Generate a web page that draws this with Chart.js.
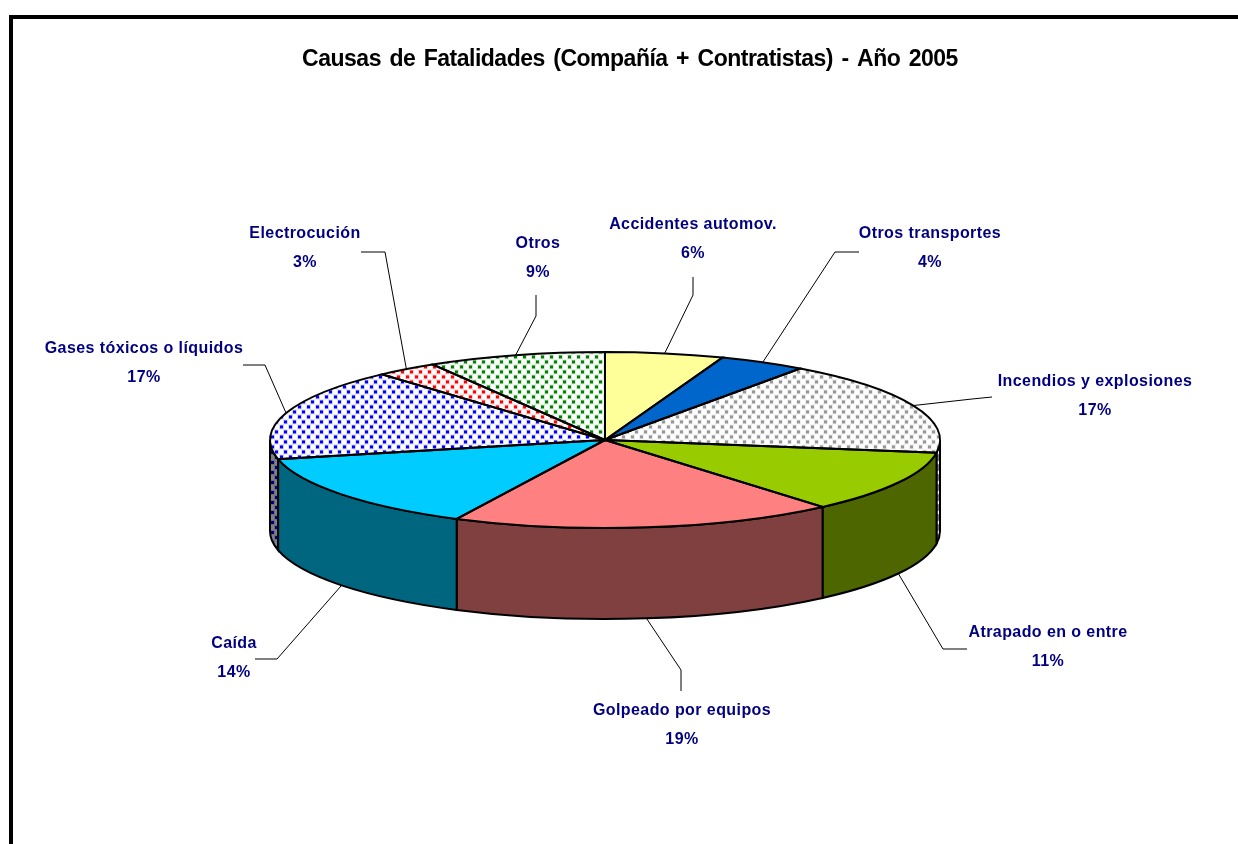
<!DOCTYPE html>
<html>
<head>
<meta charset="utf-8">
<title>Causas de Fatalidades</title>
<script src="https://cdn.jsdelivr.net/npm/chart.js@4/dist/chart.umd.js"></script>
<style>
    html, body { margin: 0; background: #fff; }
    canvas { display: block; }
</style>
</head>
<body>
<canvas id="pieChart" width="1238" height="844"></canvas>
<script>
const categories = ['Accidentes automov.', 'Otros transportes', 'Incendios y explosiones', 'Atrapado en o entre',
    'Golpeado por equipos', 'Caída', 'Gases tóxicos o líquidos', 'Electrocución', 'Otros'];
const shares = [5.7, 4.2, 17.4, 11.45, 18.55, 14.2, 16.9, 3.0, 8.6];

const chartTitle = 'Causas de Fatalidades (Compañía + Contratistas) - Año 2005';

// flattening of the pie and height of the side wall
const tilt = 88 / 335;
const depth = 91;

// label text centre, leader elbow and leader end, same order as categories
const labelSpots = [
    { x: 693, y: 225, elbow: [693, 295], end: [693, 277] },
    { x: 930, y: 234, elbow: [835, 252], end: [859, 252] },
    { x: 1095, y: 382, elbow: [972, 399], end: [992, 397] },
    { x: 1048, y: 633, elbow: [943, 649], end: [967, 649] },
    { x: 682, y: 711, elbow: [681, 670], end: [681, 691] },
    { x: 234, y: 644, elbow: [277, 659], end: [255, 659] },
    { x: 144, y: 349, elbow: [265, 365], end: [243, 365] },
    { x: 305, y: 234, elbow: [385, 252], end: [361, 252] },
    { x: 538, y: 244, elbow: [536, 316], end: [536, 295] }
];

function dots(color, back, flat) {
    const tile = document.createElement('canvas');
    tile.width = 9;
    tile.height = 10;
    const c = tile.getContext('2d');
    c.fillStyle = back;
    c.fillRect(0, 0, 9, 10);
    c.fillStyle = color;
    // soft edged dots on a staggered grid
    [[1, 1], [5, 6], [-4, 6]].forEach(([x, y]) => {
        c.globalAlpha = 0.15;
        c.fillRect(x - 1, y - 1, 5, 5);
        c.globalAlpha = 1;
        c.fillRect(x, y, 3, 3);
    });
    const pattern = c.createPattern(tile, 'repeat');
    // the pie is drawn squashed, so stretch the tile back to keep the dots square
    if (flat) pattern.setTransform(new DOMMatrix().scale(1, 1 / tilt));
    return pattern;
}

const topColors = ['#ffff99', '#0066cc', dots('#969696', '#fff', true), '#99cc00', '#ff8080', '#00ccff',
    dots('#0000ff', '#fff', true), dots('#ff0000', '#fff', true), dots('#008000', '#fff', true)];
const wallColors = ['#808000', '#003366', dots('#fff', '#808080', false), '#4d6600', '#804040', '#006680',
    dots('#000080', '#808080', false), '#800000', '#004000'];

const pie3d = {
    id: 'pie3d',
    beforeDraw(chart) {
        const ctx = chart.ctx;
        ctx.save();
        ctx.strokeStyle = '#000';
        ctx.lineWidth = 4;
        ctx.strokeRect(11, 17, 1300, 900);
        ctx.restore();
        // the title is drawn with these
        ctx.letterSpacing = '-0.5px';
        ctx.wordSpacing = '2.6px';
    },
    afterLayout(chart) {
        // title sits right of the pie centre
        chart.titleBlock.left += 50;
    },
    beforeDatasetsDraw(chart) {
        const ctx = chart.ctx;
        const arcs = chart.getDatasetMeta(0).data;
        const cx = arcs[0].x, cy = arcs[0].y;
        const rx = arcs[0].outerRadius, ry = rx * tilt;

        ctx.save();
        ctx.lineWidth = 2;
        ctx.strokeStyle = '#000';
        arcs.forEach((arc, i) => {
            const a0 = Math.max(arc.startAngle, 0);
            const a1 = Math.min(arc.endAngle, Math.PI);
            if (a1 <= a0) return;
            ctx.beginPath();
            ctx.ellipse(cx, cy, rx, ry, 0, a0, a1);
            ctx.ellipse(cx, cy + depth, rx, ry, 0, a1, a0, true);
            ctx.closePath();
            ctx.fillStyle = wallColors[i];
            ctx.fill();
            ctx.stroke();
        });
        ctx.restore();

        ctx.save();
        ctx.translate(cx, cy);
        ctx.scale(1, tilt);
        ctx.translate(-cx, -cy);
    },
    afterDatasetsDraw(chart) {
        const ctx = chart.ctx;
        ctx.restore();

        const arcs = chart.getDatasetMeta(0).data;
        const cx = arcs[0].x, cy = arcs[0].y;
        const rx = arcs[0].outerRadius, ry = rx * tilt;

        ctx.save();
        ctx.lineWidth = 2;
        ctx.strokeStyle = '#000';
        arcs.forEach(arc => {
            ctx.beginPath();
            ctx.moveTo(cx, cy);
            ctx.ellipse(cx, cy, rx, ry, 0, arc.startAngle, arc.endAngle);
            ctx.closePath();
            ctx.stroke();
        });

        // leaders and labels
        ctx.font = 'bold 16px "Liberation Sans", Arial, sans-serif';
        ctx.letterSpacing = '0.42px';
        ctx.wordSpacing = '0px';
        ctx.textAlign = 'center';
        ctx.textBaseline = 'middle';
        arcs.forEach((arc, i) => {
            const mid = (arc.startAngle + arc.endAngle) / 2;
            const spot = labelSpots[i];
            const ax = cx + rx * Math.cos(mid);
            let ay = cy + ry * Math.sin(mid);
            if (Math.sin(mid) > 0) ay += depth;

            ctx.lineWidth = 1;
            ctx.beginPath();
            ctx.moveTo(ax, ay);
            ctx.lineTo(spot.elbow[0], spot.elbow[1]);
            ctx.lineTo(spot.end[0], spot.end[1]);
            ctx.stroke();

            ctx.fillStyle = '#000080';
            ctx.fillText(categories[i], spot.x, spot.y);
            ctx.fillText(Math.round(shares[i]) + '%', spot.x, spot.y + 29);
        });
        ctx.restore();
    }
};

new Chart(document.getElementById('pieChart'), {
    type: 'pie',
    data: {
        labels: categories,
        datasets: [{
            data: shares,
            backgroundColor: topColors,
            borderWidth: 0,
            hoverOffset: 0
        }]
    },
    options: {
        responsive: false,
        animation: false,
        layout: { padding: { left: 0, right: 28, top: 0, bottom: 69 } },
        plugins: {
            legend: { display: false },
            tooltip: { enabled: false },
            title: {
                display: true,
                text: chartTitle,
                color: '#000',
                font: { family: '"Liberation Sans", Arial, sans-serif', size: 23, weight: 'bold', lineHeight: 1.2 },
                padding: { top: 46, bottom: 31.4 }
            }
        }
    },
    plugins: [pie3d]
});
</script>
</body>
</html>
